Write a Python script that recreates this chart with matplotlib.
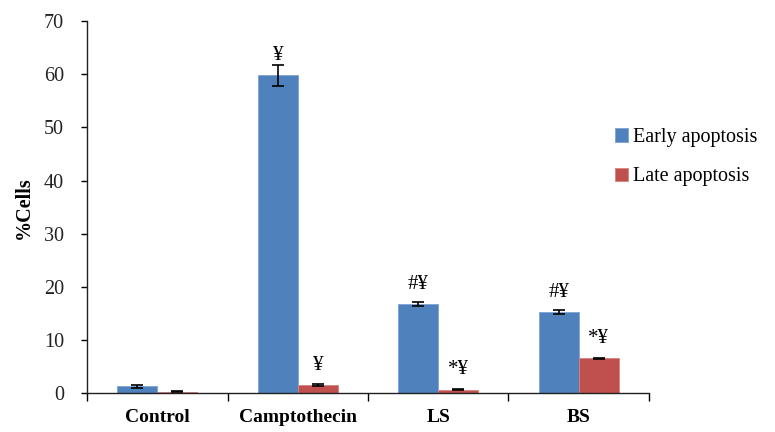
import matplotlib
matplotlib.use("Agg")
import matplotlib.pyplot as plt
import numpy as np

# Apoptosis percentages per treatment
categories = ["Control", "Camptothecin", "LS", "BS"]
early = [1.3, 59.8, 16.8, 15.3]
early_err = [0.25, 2.0, 0.4, 0.3]
late = [0.3, 1.6, 0.7, 6.6]
late_err = [0.05, 0.2, 0.15, 0.1]
early_marks = ["", "¥", "#¥", "#¥"]
late_marks = ["", "¥", "*¥", "*¥"]
series_names = ["Early apoptosis", "Late apoptosis"]

plt.rcParams["font.family"] = ["Liberation Serif", "DejaVu Serif"]

BLUE = "#4F81BD"
RED = "#C0504D"

fig = plt.figure(figsize=(7.75, 4.32), dpi=100)
ax = fig.add_axes([0.1123, 0.0896, 0.7251, 0.8618])

x = np.arange(len(categories))
w = 0.285

eb_kw = dict(ecolor="black", elinewidth=1.2, capsize=4, capthick=1.2)
b1 = ax.bar(x - w / 2, early, w, yerr=early_err, color=BLUE,
            edgecolor="#7fa3d3", linewidth=0.6, error_kw=eb_kw,
            label=series_names[0], zorder=2)
b2 = ax.bar(x + w / 2, late, w, yerr=late_err, color=RED,
            edgecolor="#d58482", linewidth=0.6, error_kw=eb_kw,
            label=series_names[1], zorder=2)

# significance marks above the bars
for xi, v, m in zip(x - w / 2, early, early_marks):
    if m:
        ax.annotate(m, (xi, v), xytext=(0, 11), textcoords="offset points",
                    ha="center", va="baseline", fontsize=15)
for xi, v, m in zip(x + w / 2, late, late_marks):
    if m:
        ax.annotate(m, (xi, v), xytext=(0, 11), textcoords="offset points",
                    ha="center", va="baseline", fontsize=15)

ax.set_xlim(-0.5, len(categories) - 0.5)
ax.set_ylim(0, 70)
ax.set_yticks(np.arange(0, 71, 10))

# category boundaries as major ticks, names centred as minor ticks
ax.set_xticks(np.arange(-0.5, len(categories), 1.0))
ax.set_xticklabels([])
ax.set_xticks(x, minor=True)
ax.set_xticklabels(categories, minor=True, fontweight="bold", fontsize=14)
ax.tick_params(axis="x", which="minor", length=0, pad=11)
ax.tick_params(axis="x", which="major", length=6, width=1.0, direction="out")
ax.tick_params(axis="y", length=4.5, width=1.0, direction="out",
               labelsize=14.5, pad=12, labelcolor="#222222")

for s in ["top", "right"]:
    ax.spines[s].set_visible(False)
for s in ["left", "bottom"]:
    ax.spines[s].set_linewidth(1.0)
    ax.spines[s].set_color("#202020")

ax.set_ylabel("%Cells", fontweight="bold", fontsize=14.5)
ax.yaxis.set_label_coords(-0.095, 0.5)

leg = fig.legend(handles=[b1, b2], labels=series_names,
                 loc="upper left", bbox_to_anchor=(0.77, 0.745),
                 frameon=False, fontsize=14.5, handlelength=0.65,
                 handleheight=0.65, handletextpad=0.25, labelspacing=1.0)

fig.savefig("out.png", dpi=100)
